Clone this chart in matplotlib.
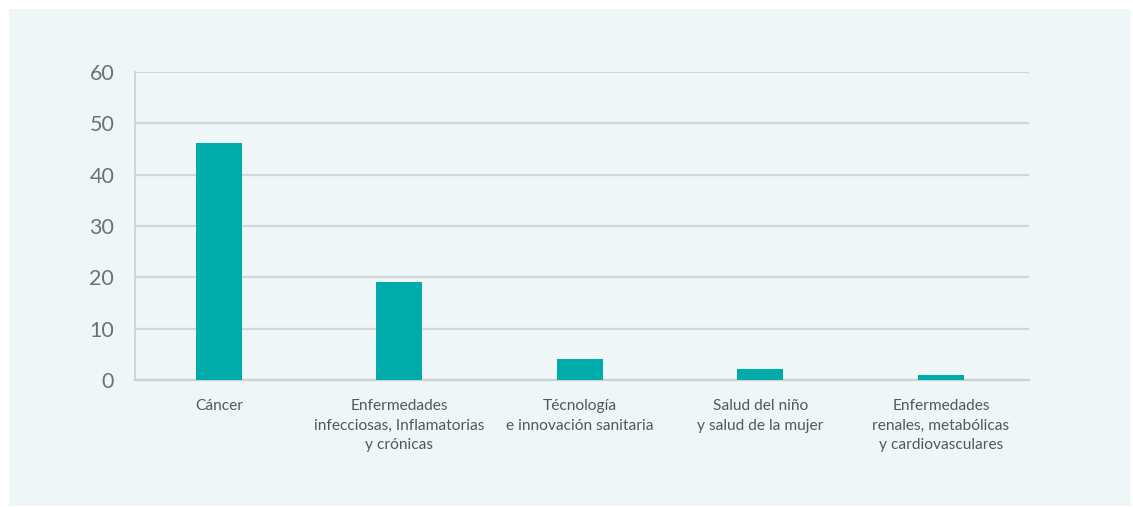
import matplotlib
matplotlib.use("Agg")
import matplotlib.pyplot as plt
from matplotlib.patches import Rectangle

categories = [
    "Cáncer",
    "Enfermedades\ninfecciosas, Inflamatorias\ny crónicas",
    "Técnología\ne innovación sanitaria",
    "Salud del niño\ny salud de la mujer",
    "Enfermedades\nrenales, metabólicas\ny cardiovasculares",
]
values = [46.2, 19, 4, 2.2, 0.9]
yticks = [0, 10, 20, 30, 40, 50, 60]

plt.rcParams['font.family'] = ['Lato', 'DejaVu Sans']

W, H = 1133, 507
fig = plt.figure(figsize=(W / 100, H / 100), dpi=100)
fig.patch.set_facecolor('white')
fig.patches.append(Rectangle((9 / W, 1 / H), (1131 - 9) / W, (497) / H,
                             transform=fig.transFigure, facecolor='#eef6f8',
                             edgecolor='none', zorder=-10))

ax = fig.add_axes([135 / W, 1 - 380 / H, (1029 - 135) / W, (380 - 72) / H])
ax.set_facecolor('none')

x = list(range(len(categories)))
ax.bar(x, values, width=0.255, color='#00aca9', zorder=3)

ax.set_xlim(-0.465, 4.488)
ax.set_ylim(0, 60)
ax.set_yticks(yticks)
ax.set_yticklabels([str(v) for v in yticks])
ax.set_xticks(x)
ax.set_xticklabels(categories, linespacing=1.5)

ax.grid(axis='y', color='#d4d6d8', linewidth=1.6, zorder=0)
ax.grid(axis='x', visible=False)
for s in ['top', 'right']:
    ax.spines[s].set_visible(False)
ax.spines['left'].set_color('#cfd1d3')
ax.spines['left'].set_linewidth(1.3)
ax.spines['bottom'].set_color('#cfd1d3')
ax.spines['bottom'].set_linewidth(1.6)

ax.tick_params(axis='y', length=0, pad=15, labelsize=15.5, labelcolor='#6e7174')
ax.tick_params(axis='x', length=0, pad=14, labelsize=11.2, labelcolor='#55585b')

fig.savefig('out.png', dpi=100, facecolor='white')
